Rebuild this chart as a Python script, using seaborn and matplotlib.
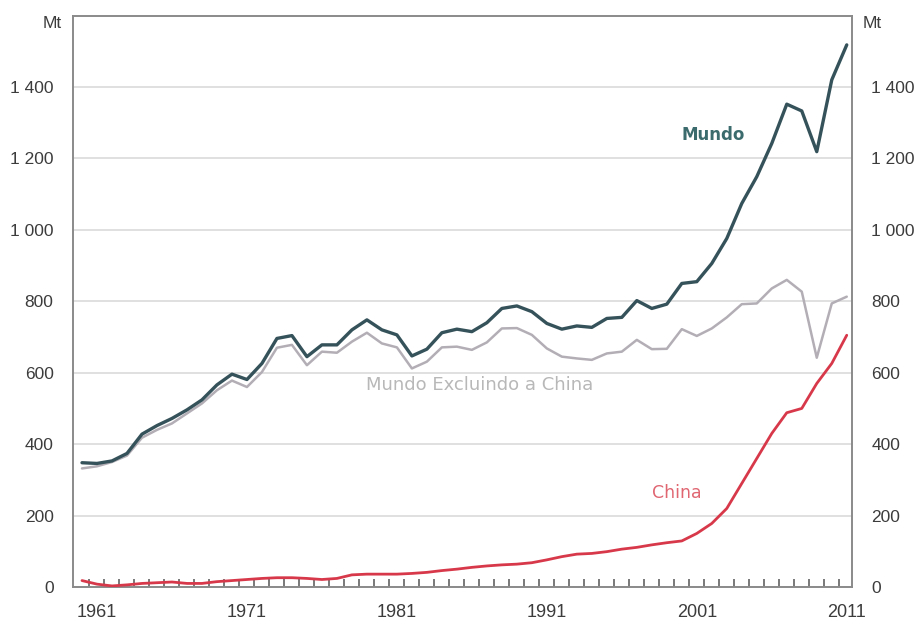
import numpy as np
import pandas as pd
import seaborn as sns
import matplotlib
matplotlib.use("Agg")
import matplotlib.pyplot as plt
from matplotlib.ticker import FuncFormatter, FixedLocator

# Crude steel production (Mt), 1960-2011
years = list(range(1960, 2012))
mundo = [348, 346, 353, 374, 428, 452, 472, 496, 524, 566, 596, 581, 626, 696, 704, 645,
         678, 678, 720, 748, 720, 706, 647, 666, 712, 722, 715, 740, 780, 787, 771, 738,
         722, 731, 727, 752, 755, 802, 780, 792, 850, 855, 906, 976, 1074, 1149, 1242,
         1352, 1333, 1219, 1420, 1518]
mundo_sem_china = [332, 338, 350, 368, 418, 440, 458, 486, 514, 551, 578, 560, 602, 670, 678,
                   621, 659, 656, 687, 712, 682, 671, 612, 631, 671, 673, 664, 685, 724, 725,
                   706, 668, 645, 640, 636, 654, 659, 692, 666, 667, 722, 703, 724, 755, 792,
                   794, 836, 860, 827, 642, 794, 813]
china = [18, 8, 3, 6, 10, 12, 14, 10, 10, 15, 18, 21, 24, 26, 26, 24, 21, 24, 34, 36, 36, 36,
         38, 41, 46, 50, 55, 59, 62, 64, 68, 76, 85, 92, 94, 99, 106, 111, 118, 124, 129,
         150, 178, 220, 290, 360, 430, 488, 500, 570, 626, 705]

series_names = ["Mundo Excluindo a China", "China", "Mundo"]
year_labels = [1961, 1971, 1981, 1991, 2001, 2011]
y_ticks = [0, 200, 400, 600, 800, 1000, 1200, 1400]

df = pd.DataFrame({
    "ano": years * 3,
    "Mt": mundo_sem_china + china + mundo,
    "serie": [series_names[0]] * len(years) + [series_names[1]] * len(years)
             + [series_names[2]] * len(years),
})

sns.set_theme(style="white")
plt.rcParams["font.family"] = ["Liberation Sans", "DejaVu Sans"]

palette = {"Mundo Excluindo a China": "#b3aeb6", "China": "#d8394a", "Mundo": "#35525a"}
widths = {"Mundo Excluindo a China": 1.8, "China": 2.0, "Mundo": 2.4}

fig = plt.figure(figsize=(9.15, 6.26), dpi=100)
ax = fig.add_axes([73 / 915, 1 - 587 / 626, (852 - 73) / 915, (587 - 15.6) / 626])

for name in series_names:
    sns.lineplot(data=df[df["serie"] == name], x="ano", y="Mt", color=palette[name],
                 linewidth=widths[name], ax=ax, legend=False, zorder=3)

ax.set_xlim(1959.4, 2011.35)
ax.set_ylim(0, 1600)
ax.set_xlabel("")
ax.set_ylabel("")

# grid
ax.yaxis.set_major_locator(FixedLocator(y_ticks))
ax.grid(axis="y", color="#dddddd", linewidth=1.3, zorder=0)
ax.grid(axis="x", visible=False)
ax.set_axisbelow(True)

for side in ["left", "right", "top", "bottom"]:
    ax.spines[side].set_visible(True)
    ax.spines[side].set_color("#8a8a8a")
    ax.spines[side].set_linewidth(1.4)

fmt = FuncFormatter(lambda v, p: f"{int(v):,}".replace(",", " "))
ax.yaxis.set_major_formatter(fmt)
ax.tick_params(axis="y", which="both", left=False, right=False, labelleft=True,
               labelright=True, labelsize=12.5, labelcolor="#3c3c3c", pad=8)

ax.xaxis.set_major_locator(FixedLocator(year_labels))
ax.xaxis.set_minor_locator(FixedLocator([y + 0.45 for y in range(1960, 2011)]))
ax.tick_params(axis="x", which="major", length=0, labelsize=13, labelcolor="#3c3c3c", pad=12)
ax.tick_params(axis="x", which="minor", direction="in", length=6, width=1.1,
               color="#555555", bottom=True, top=False)

# unit labels on both axes
for xf, ha, dx in [(0.0, "right", -8), (1.0, "left", 8)]:
    ax.annotate("Mt", xy=(xf, 1577), xycoords=("axes fraction", "data"),
                xytext=(dx, 0), textcoords="offset points",
                ha=ha, va="center", fontsize=12.5, color="#3c3c3c", annotation_clip=False)

# series labels
ax.text(2002.1, 1266, "Mundo", color="#3c6b6d", fontsize=12, fontweight="bold",
        ha="center", va="center", family=["DejaVu Sans"])
ax.text(1986.5, 565, "Mundo Excluindo a China", color="#b8b8b8", fontsize=13,
        ha="center", va="center", family=["DejaVu Sans"])
ax.text(1999.65, 262, "China", color="#e06672", fontsize=12.5,
        ha="center", va="center", family=["DejaVu Sans"])

fig.savefig("out.png", dpi=100, facecolor="white")
